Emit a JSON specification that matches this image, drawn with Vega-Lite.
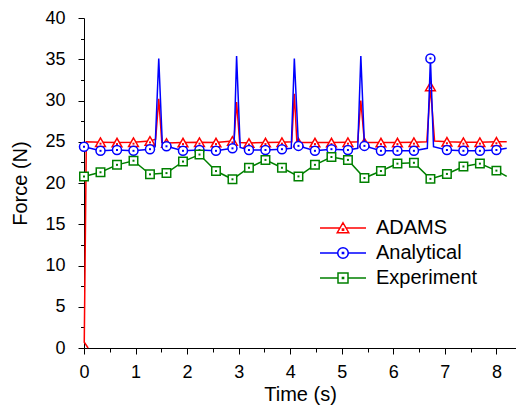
{
  "$schema": "https://vega.github.io/schema/vega-lite/v6.json",
  "width": 432,
  "height": 330,
  "autosize": {"type": "none"},
  "padding": {"left": 84, "top": 18, "right": 0, "bottom": 63},
  "background": "white",
  "config": {
    "view": {"stroke": null},
    "font": "Liberation Sans",
    "axis": {
      "grid": false,
      "domainColor": "black",
      "tickColor": "black",
      "labelColor": "black",
      "titleColor": "black",
      "labelFont": "Liberation Sans",
      "titleFont": "Liberation Sans",
      "titleFontWeight": "normal",
      "labelFontSize": 18,
      "titleFontSize": 20,
      "labelFlush": false,
      "labelOverlap": false,
      "domainWidth": 1,
      "tickWidth": 1
    },
    "legend": {"labelFont": "Liberation Sans"}
  },
  "data": {
    "values": [
      {"s": "ADAMS", "t": 0.08, "f": 0.0},
      {"s": "ADAMS", "t": 0.005, "f": 0.7},
      {"s": "ADAMS", "t": 0.045, "f": 25.0},
      {"s": "ADAMS", "t": 0.32, "f": 24.95},
      {"s": "ADAMS", "t": 0.64, "f": 24.9},
      {"s": "ADAMS", "t": 0.96, "f": 24.95},
      {"s": "ADAMS", "t": 1.28, "f": 25.1},
      {"s": "ADAMS", "t": 1.39, "f": 25.3},
      {"s": "ADAMS", "t": 1.45, "f": 30.2},
      {"s": "ADAMS", "t": 1.51, "f": 24.9},
      {"s": "ADAMS", "t": 1.6, "f": 24.85},
      {"s": "ADAMS", "t": 1.92, "f": 24.9},
      {"s": "ADAMS", "t": 2.24, "f": 24.95},
      {"s": "ADAMS", "t": 2.56, "f": 24.9},
      {"s": "ADAMS", "t": 2.88, "f": 25.1},
      {"s": "ADAMS", "t": 2.91, "f": 25.2},
      {"s": "ADAMS", "t": 2.96, "f": 29.8},
      {"s": "ADAMS", "t": 3.02, "f": 24.9},
      {"s": "ADAMS", "t": 3.2, "f": 24.85},
      {"s": "ADAMS", "t": 3.52, "f": 24.9},
      {"s": "ADAMS", "t": 3.84, "f": 24.95},
      {"s": "ADAMS", "t": 4.03, "f": 25.0},
      {"s": "ADAMS", "t": 4.08, "f": 30.8},
      {"s": "ADAMS", "t": 4.13, "f": 24.9},
      {"s": "ADAMS", "t": 4.16, "f": 24.9},
      {"s": "ADAMS", "t": 4.48, "f": 24.9},
      {"s": "ADAMS", "t": 4.8, "f": 24.9},
      {"s": "ADAMS", "t": 5.12, "f": 24.95},
      {"s": "ADAMS", "t": 5.31, "f": 25.0},
      {"s": "ADAMS", "t": 5.37, "f": 30.0},
      {"s": "ADAMS", "t": 5.44, "f": 24.9},
      {"s": "ADAMS", "t": 5.76, "f": 24.9},
      {"s": "ADAMS", "t": 6.08, "f": 24.9},
      {"s": "ADAMS", "t": 6.4, "f": 24.95},
      {"s": "ADAMS", "t": 6.65, "f": 25.0},
      {"s": "ADAMS", "t": 6.72, "f": 31.7},
      {"s": "ADAMS", "t": 6.8, "f": 25.1},
      {"s": "ADAMS", "t": 7.04, "f": 25.0},
      {"s": "ADAMS", "t": 7.36, "f": 24.95},
      {"s": "ADAMS", "t": 7.68, "f": 24.95},
      {"s": "ADAMS", "t": 8.0, "f": 25.0},
      {"s": "ADAMS", "t": 8.2, "f": 25.0},

      {"s": "Analytical", "t": 0, "f": 24.4},
      {"s": "Analytical", "t": 0.32, "f": 23.9},
      {"s": "Analytical", "t": 0.64, "f": 24.0},
      {"s": "Analytical", "t": 0.96, "f": 23.9},
      {"s": "Analytical", "t": 1.28, "f": 24.1},
      {"s": "Analytical", "t": 1.38, "f": 24.4},
      {"s": "Analytical", "t": 1.45, "f": 35.1},
      {"s": "Analytical", "t": 1.52, "f": 24.6},
      {"s": "Analytical", "t": 1.6, "f": 24.45},
      {"s": "Analytical", "t": 1.92, "f": 23.9},
      {"s": "Analytical", "t": 2.24, "f": 24.0},
      {"s": "Analytical", "t": 2.56, "f": 23.9},
      {"s": "Analytical", "t": 2.88, "f": 24.2},
      {"s": "Analytical", "t": 2.91, "f": 24.3},
      {"s": "Analytical", "t": 2.96, "f": 35.4},
      {"s": "Analytical", "t": 3.03, "f": 24.3},
      {"s": "Analytical", "t": 3.2, "f": 24.0},
      {"s": "Analytical", "t": 3.52, "f": 24.0},
      {"s": "Analytical", "t": 3.84, "f": 24.1},
      {"s": "Analytical", "t": 4.02, "f": 24.2},
      {"s": "Analytical", "t": 4.08, "f": 35.1},
      {"s": "Analytical", "t": 4.16, "f": 24.5},
      {"s": "Analytical", "t": 4.48, "f": 23.9},
      {"s": "Analytical", "t": 4.8, "f": 24.1},
      {"s": "Analytical", "t": 5.12, "f": 24.0},
      {"s": "Analytical", "t": 5.31, "f": 24.2},
      {"s": "Analytical", "t": 5.37, "f": 35.4},
      {"s": "Analytical", "t": 5.44, "f": 24.5},
      {"s": "Analytical", "t": 5.76, "f": 23.9},
      {"s": "Analytical", "t": 6.08, "f": 23.9},
      {"s": "Analytical", "t": 6.4, "f": 23.9},
      {"s": "Analytical", "t": 6.66, "f": 24.2},
      {"s": "Analytical", "t": 6.72, "f": 35.1},
      {"s": "Analytical", "t": 6.78, "f": 24.4},
      {"s": "Analytical", "t": 7.04, "f": 24.0},
      {"s": "Analytical", "t": 7.36, "f": 23.9},
      {"s": "Analytical", "t": 7.68, "f": 23.9},
      {"s": "Analytical", "t": 8.0, "f": 24.0},
      {"s": "Analytical", "t": 8.2, "f": 24.2},

      {"s": "Experiment", "t": 0, "f": 20.8},
      {"s": "Experiment", "t": 0.32, "f": 21.3},
      {"s": "Experiment", "t": 0.64, "f": 22.2},
      {"s": "Experiment", "t": 0.96, "f": 22.7},
      {"s": "Experiment", "t": 1.28, "f": 21.05},
      {"s": "Experiment", "t": 1.6, "f": 21.2},
      {"s": "Experiment", "t": 1.92, "f": 22.6},
      {"s": "Experiment", "t": 2.24, "f": 23.45},
      {"s": "Experiment", "t": 2.56, "f": 21.45},
      {"s": "Experiment", "t": 2.88, "f": 20.45},
      {"s": "Experiment", "t": 3.2, "f": 21.85},
      {"s": "Experiment", "t": 3.52, "f": 22.8},
      {"s": "Experiment", "t": 3.84, "f": 21.85},
      {"s": "Experiment", "t": 4.16, "f": 20.8},
      {"s": "Experiment", "t": 4.48, "f": 22.2},
      {"s": "Experiment", "t": 4.8, "f": 23.15},
      {"s": "Experiment", "t": 5.12, "f": 22.8},
      {"s": "Experiment", "t": 5.44, "f": 20.6},
      {"s": "Experiment", "t": 5.76, "f": 21.45},
      {"s": "Experiment", "t": 6.08, "f": 22.35},
      {"s": "Experiment", "t": 6.4, "f": 22.45},
      {"s": "Experiment", "t": 6.72, "f": 20.5},
      {"s": "Experiment", "t": 7.04, "f": 21.1},
      {"s": "Experiment", "t": 7.36, "f": 22.0},
      {"s": "Experiment", "t": 7.68, "f": 22.35},
      {"s": "Experiment", "t": 8.0, "f": 21.5},
      {"s": "Experiment", "t": 8.2, "f": 20.8}
    ]
  },
  "resolve": {"axis": {"x": "independent", "y": "independent"}},
  "layer": [
    {
      "transform": [{"filter": "datum.s === 'ADAMS'"}],
      "mark": {"type": "line", "strokeWidth": 1.5},
      "encoding": {
        "x": {"field": "t", "type": "quantitative", "scale": {"domain": [0, 8.38], "nice": false, "zero": false},
              "axis": {"orient": "bottom", "values": [0,1,2,3,4,5,6,7,8], "tickSize": 6, "labelPadding": 9, "title": "Time (s)", "titlePadding": 3, "format": "d"}},
        "y": {"field": "f", "type": "quantitative", "scale": {"domain": [0, 40], "nice": false},
              "axis": {"orient": "left", "values": [0,5,10,15,20,25,30,35,40], "tickSize": 6, "labelPadding": 13, "title": "Force (N)", "titlePadding": 14, "format": "d"}},
        "color": {"field": "s", "type": "nominal",
                  "scale": {"domain": ["ADAMS", "Analytical", "Experiment"], "range": ["#ff0000", "#0000ff", "#008000"]},
                  "legend": {
                    "title": null, "orient": "none", "legendX": 249, "legendY": 200,
                    "labelFontSize": 20, "labelColor": "black", "labelOffset": 23, "rowPadding": 5,
                    "symbolSize": 100,
                    "encode": {"symbols": {"update": {
                      "shape": {"signal": "datum.value === 'ADAMS' ? 'M-4.6,0L-0.6,0M0.6,0L4.6,0M0,-1.05L1.15,0.95L-1.15,0.95ZM-0.12,0.2L0.12,0.2L0.12,0.44L-0.12,0.44Z' : datum.value === 'Analytical' ? 'M-4.6,0L-1.05,0M1.05,0L4.6,0M1.05,0A1.05,1.05 0 1,1 -1.05,0A1.05,1.05 0 1,1 1.05,0ZM-0.12,-0.12L0.12,-0.12L0.12,0.12L-0.12,0.12Z' : 'M-4.6,0L-1,0M1,0L4.6,0M-1,-1L1,-1L1,1L-1,1ZM-0.12,-0.12L0.12,-0.12L0.12,0.12L-0.12,0.12Z'"},
                      "size": {"value": 100},
                      "fill": {"value": "white"},
                      "fillOpacity": {"value": 1},
                      "stroke": {"scale": "color", "field": "value"},
                      "strokeWidth": {"value": 1.5},
                      "opacity": {"value": 1}
                    }}}
                  }},
        "order": {"value": null}
      }
    },
    {
      "transform": [{"filter": "datum.s === 'ADAMS'"}, {"filter": {"field": "t", "oneOf": [0,0.32,0.64,0.96,1.28,1.6,1.92,2.24,2.56,2.88,3.2,3.52,3.84,4.16,4.48,4.8,5.12,5.44,5.76,6.08,6.4,6.72,7.04,7.36,7.68,8.0]}}],
      "mark": {"type": "point", "shape": "triangle-up", "size": 95, "filled": false, "fill": "white", "fillOpacity": 1, "opacity": 1, "strokeWidth": 1.5, "color": "#ff0000"},
      "encoding": {"x": {"field": "t", "type": "quantitative", "axis": null}, "y": {"field": "f", "type": "quantitative", "axis": null}}
    },
    {
      "transform": [{"filter": "datum.s === 'ADAMS'"}, {"filter": {"field": "t", "oneOf": [0,0.32,0.64,0.96,1.28,1.6,1.92,2.24,2.56,2.88,3.2,3.52,3.84,4.16,4.48,4.8,5.12,5.44,5.76,6.08,6.4,6.72,7.04,7.36,7.68,8.0]}}],
      "mark": {"type": "point", "shape": "square", "size": 4, "filled": true, "opacity": 1, "color": "#ff0000", "yOffset": 1.5},
      "encoding": {"x": {"field": "t", "type": "quantitative", "axis": null}, "y": {"field": "f", "type": "quantitative", "axis": null}}
    },
    {
      "transform": [{"filter": "datum.s === 'Analytical'"}],
      "mark": {"type": "line", "strokeWidth": 1.5},
      "encoding": {
        "x": {"field": "t", "type": "quantitative", "axis": null},
        "y": {"field": "f", "type": "quantitative", "axis": null},
        "color": {"field": "s", "type": "nominal", "legend": null},
        "order": {"value": null}
      }
    },
    {
      "transform": [{"filter": "datum.s === 'Analytical'"}, {"filter": {"field": "t", "oneOf": [0,0.32,0.64,0.96,1.28,1.6,1.92,2.24,2.56,2.88,3.2,3.52,3.84,4.16,4.48,4.8,5.12,5.44,5.76,6.08,6.4,6.72,7.04,7.36,7.68,8.0]}}],
      "mark": {"type": "point", "shape": "circle", "size": 81, "filled": false, "fill": "white", "fillOpacity": 1, "opacity": 1, "strokeWidth": 1.5, "color": "#0000ff"},
      "encoding": {"x": {"field": "t", "type": "quantitative", "axis": null}, "y": {"field": "f", "type": "quantitative", "axis": null}}
    },
    {
      "transform": [{"filter": "datum.s === 'Analytical'"}, {"filter": {"field": "t", "oneOf": [0,0.32,0.64,0.96,1.28,1.6,1.92,2.24,2.56,2.88,3.2,3.52,3.84,4.16,4.48,4.8,5.12,5.44,5.76,6.08,6.4,6.72,7.04,7.36,7.68,8.0]}}],
      "mark": {"type": "point", "shape": "square", "size": 4, "filled": true, "opacity": 1, "color": "#0000ff"},
      "encoding": {"x": {"field": "t", "type": "quantitative", "axis": null}, "y": {"field": "f", "type": "quantitative", "axis": null}}
    },
    {
      "transform": [{"filter": "datum.s === 'Experiment'"}],
      "mark": {"type": "line", "strokeWidth": 1.5},
      "encoding": {
        "x": {"field": "t", "type": "quantitative", "axis": null},
        "y": {"field": "f", "type": "quantitative", "axis": null},
        "color": {"field": "s", "type": "nominal", "legend": null},
        "order": {"value": null}
      }
    },
    {
      "transform": [{"filter": "datum.s === 'Experiment'"}, {"filter": {"field": "t", "oneOf": [0,0.32,0.64,0.96,1.28,1.6,1.92,2.24,2.56,2.88,3.2,3.52,3.84,4.16,4.48,4.8,5.12,5.44,5.76,6.08,6.4,6.72,7.04,7.36,7.68,8.0]}}],
      "mark": {"type": "point", "shape": "square", "size": 72, "filled": false, "fill": "white", "fillOpacity": 1, "opacity": 1, "strokeWidth": 1.5, "color": "#008000"},
      "encoding": {"x": {"field": "t", "type": "quantitative", "axis": null}, "y": {"field": "f", "type": "quantitative", "axis": null}}
    },
    {
      "transform": [{"filter": "datum.s === 'Experiment'"}, {"filter": {"field": "t", "oneOf": [0,0.32,0.64,0.96,1.28,1.6,1.92,2.24,2.56,2.88,3.2,3.52,3.84,4.16,4.48,4.8,5.12,5.44,5.76,6.08,6.4,6.72,7.04,7.36,7.68,8.0]}}],
      "mark": {"type": "point", "shape": "square", "size": 4, "filled": true, "opacity": 1, "color": "#008000"},
      "encoding": {"x": {"field": "t", "type": "quantitative", "axis": null}, "y": {"field": "f", "type": "quantitative", "axis": null}}
    },
    {
      "mark": {"type": "point", "opacity": 0},
      "encoding": {
        "x": {"field": "t", "type": "quantitative",
              "axis": {"orient": "bottom", "values": [0.5,1.5,2.5,3.5,4.5,5.5,6.5,7.5], "tickSize": 4, "labels": false, "domain": false, "title": null}},
        "y": {"field": "f", "type": "quantitative",
              "axis": {"orient": "left", "values": [2.5,7.5,12.5,17.5,22.5,27.5,32.5,37.5], "tickSize": 3.5, "labels": false, "domain": false, "title": null}}
      }
    }
  ]
}
